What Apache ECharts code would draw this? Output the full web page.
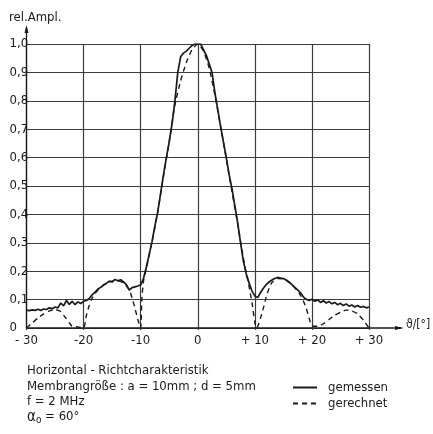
<!DOCTYPE html>
<html>
<head>
<meta charset="utf-8">
<script src="https://cdn.jsdelivr.net/npm/echarts@6/dist/echarts.min.js"></script>
<style>
html,body{margin:0;padding:0;background:#fff;}
#c{width:433px;height:434px;}
</style>
</head>
<body>
<div id="c"></div>
<script>
// ---- data ----
const xTicks = [-30, -20, -10, 0, 10, 20, 30];
const xTickLabels = ['- 30', '-20', '-10', '0', '+ 10', '+ 20', '+ 30'];
const yTickLabels = ['0', '0,1', '0,2', '0,3', '0,4', '0,5', '0,6', '0,7', '0,8', '0,9', '1,0'];

const measuredDeg = [
 -30,-29.5,-29,-28.5,-28,-27.5,-27,-26.5,-26,-25.5,-25,-24.5,-24,-23.5,-23,-22.5,-22,-21.5,-21,-20.5,
 -20,-19.5,-19,-18.5,-18,-17.5,-17,-16.5,-16,-15.5,-15,-14.5,-14,-13.5,-13,-12.5,-12,-11.5,-11,-10.5,
 -10,-9.5,-9,-8.5,-8,-7.5,-7,-6.5,-6,-5.5,-5,-4.5,-4,-3.5,-3,-2.5,-2,-1.5,-1,-0.5,
 0,0.5,1,1.5,2,2.5,3,3.5,4,4.5,5,5.5,6,6.5,7,7.5,8,8.5,9,9.5,
 10,10.5,11,11.5,12,12.5,13,13.5,14,14.5,15,15.5,16,16.5,17,17.5,18,18.5,19,19.5,
 20,20.5,21,21.5,22,22.5,23,23.5,24,24.5,25,25.5,26,26.5,27,27.5,28,28.5,29,29.5,30
];
const measuredAmp = [
 0.063,0.061,0.064,0.062,0.066,0.062,0.067,0.065,0.071,0.068,0.074,0.071,0.088,0.078,0.097,0.083,0.094,0.082,0.092,0.086,
 0.094,0.097,0.104,0.117,0.126,0.137,0.143,0.152,0.157,0.165,0.162,0.171,0.166,0.170,0.162,0.153,0.133,0.142,0.145,0.148,
 0.152,0.175,0.215,0.26,0.305,0.36,0.41,0.475,0.54,0.60,0.655,0.72,0.80,0.90,0.955,0.968,0.975,0.985,0.995,1.0,
 1.0,1.0,0.98,0.96,0.93,0.90,0.83,0.77,0.71,0.655,0.60,0.54,0.49,0.43,0.37,0.30,0.235,0.19,0.158,0.13,
 0.113,0.107,0.125,0.14,0.153,0.162,0.169,0.174,0.178,0.176,0.174,0.169,0.162,0.153,0.143,0.134,0.124,0.110,0.101,0.097,
 0.101,0.094,0.099,0.090,0.096,0.088,0.093,0.085,0.090,0.082,0.087,0.079,0.085,0.077,0.081,0.074,0.079,0.073,0.076,0.071,0.074
];

const computedDeg = [
 -30,-29,-28,-27,-26,-25,-24,-23.5,-23,-22.5,-22,-21,-20,-19.5,-19,-18.5,-18,-17,-16,-15,-14,-13,-12,-11.5,-11,-10.5,
 -10,-9.8,-9.5,-9,-8,-7,-6,-5,-4,-3,-2,-1,0,1,2,3,4,5,6,7,8,9,9.5,10,10.3,
 10.6,11,11.5,12,12.5,13,14,15,16,17,18,18.5,19,19.5,20,21,22,23,24,25,26,27,28,29,30
];
const computedAmp = [
 0,0.018,0.035,0.05,0.06,0.065,0.058,0.045,0.032,0.018,0.006,0.004,0,0.045,0.08,0.105,0.122,0.143,0.157,0.165,0.166,0.158,0.135,0.105,0.07,0.03,
 0,0.1,0.165,0.21,0.305,0.41,0.535,0.655,0.785,0.87,0.935,0.98,1.0,0.975,0.915,0.82,0.71,0.595,0.48,0.365,0.245,0.145,0.09,0.02,0,
 0.01,0.035,0.07,0.11,0.14,0.16,0.174,0.173,0.16,0.142,0.115,0.095,0.07,0.035,0.008,0.006,0.015,0.03,0.045,0.056,0.063,0.06,0.05,0.028,0
];

const seriesNames = ['gemessen', 'gerechnet'];
const captionLines = ['Horizontal - Richtcharakteristik', 'Membrangröße : a = 10mm ; d = 5mm', 'f = 2 MHz'];

// ---- chart ----
const FONT = '"Liberation Sans Narrow", "DejaVu Sans Condensed", "Liberation Sans", sans-serif';
const INK = '#1a1a1a';
const GRIDC = '#3c3c3c';

const chart = echarts.init(document.getElementById('c'), null, {renderer: 'canvas'});

const zip = (xs, ys) => xs.map((x, i) => [x, ys[i]]);

chart.setOption({
  animation: false,
  backgroundColor: '#fff',
  grid: {left: 26.5, right: 64, top: 44, bottom: 106, containLabel: false},
  xAxis: {
    type: 'value', min: -30, max: 30, interval: 10,
    axisLine: {show: false},
    axisTick: {show: true, length: 2, lineStyle: {color: GRIDC, width: 1.2}},
    splitLine: {show: true, lineStyle: {color: GRIDC, width: 1.2}},
    axisLabel: {
      margin: 6, color: INK, fontFamily: FONT, fontSize: 13,
      formatter: v => { const i = xTicks.indexOf(Math.round(v)); return i >= 0 ? xTickLabels[i] : ''; }
    }
  },
  yAxis: {
    type: 'value', min: 0, max: 1, interval: 0.1,
    axisLine: {show: false},
    axisTick: {show: false},
    splitLine: {show: true, lineStyle: {color: GRIDC, width: 1.2}},
    axisLabel: {
      margin: 17, align: 'left', color: INK, fontFamily: FONT, fontSize: 13,
      formatter: v => yTickLabels[Math.round(v * 10)]
    }
  },
  legend: {
    data: seriesNames,
    orient: 'vertical', left: 287, top: 376,
    itemWidth: 24, itemHeight: 12, itemGap: 3,
    itemStyle: {color: 'rgba(0,0,0,0)', borderColor: 'rgba(0,0,0,0)', borderWidth: 0},
    textStyle: {color: INK, fontFamily: FONT, fontSize: 13, padding: [0, 0, 0, 6]}
  },
  series: [
    {
      name: seriesNames[0], type: 'line', data: zip(measuredDeg, measuredAmp),
      symbol: 'none', smooth: false,
      lineStyle: {color: INK, width: 1.7}, itemStyle: {color: INK}, z: 3
    },
    {
      name: seriesNames[1], type: 'line', data: zip(computedDeg, computedAmp),
      symbol: 'none', smooth: 0.2,
      lineStyle: {color: INK, width: 1.4, type: [5, 4]}, itemStyle: {color: INK}, z: 4
    }
  ]
});

// extended axes with arrows, positioned from the axis scales
const o = chart.convertToPixel({gridIndex: 0}, [-30, 0]);
const e = chart.convertToPixel({gridIndex: 0}, [30, 1]);
const yTop = e[1] - 19;
const xEnd = e[0] + 35;
const txt = (x, y, text, size) => ({
  type: 'text', x: x, y: y,
  style: {text: text, fill: INK, font: (size || 13) + 'px ' + FONT, textVerticalAlign: 'middle'}
});

chart.setOption({
  graphic: [
    {type: 'line', shape: {x1: o[0], y1: o[1], x2: o[0], y2: yTop + 3}, style: {stroke: INK, lineWidth: 1.3}},
    {type: 'polygon', shape: {points: [[o[0], yTop], [o[0] - 2, yTop + 8], [o[0] + 2, yTop + 8]]}, style: {fill: INK}},
    {type: 'line', shape: {x1: o[0], y1: o[1], x2: xEnd - 3, y2: o[1]}, style: {stroke: INK, lineWidth: 1.3}},
    {type: 'polygon', shape: {points: [[xEnd, o[1]], [xEnd - 9, o[1] - 2], [xEnd - 9, o[1] + 2]]}, style: {fill: INK}},
    txt(9, 18, 'rel.Ampl.'),
    txt(406, 325, 'ϑ/[°]', 12),
    txt(27, 371, captionLines[0]),
    txt(27, 387, captionLines[1]),
    txt(27, 402, captionLines[2]),
    {type: 'text', x: 27, y: 417, style: {
      text: '{a|α}{s|o} = 60°', fill: INK, font: '13px ' + FONT, textVerticalAlign: 'middle',
      rich: {a: {fontFamily: FONT, fontSize: 15, fill: INK}, s: {fontFamily: FONT, fontSize: 10, fill: INK, padding: [6, 0, 0, 0]}}
    }}
  ]
});
</script>
</body>
</html>
